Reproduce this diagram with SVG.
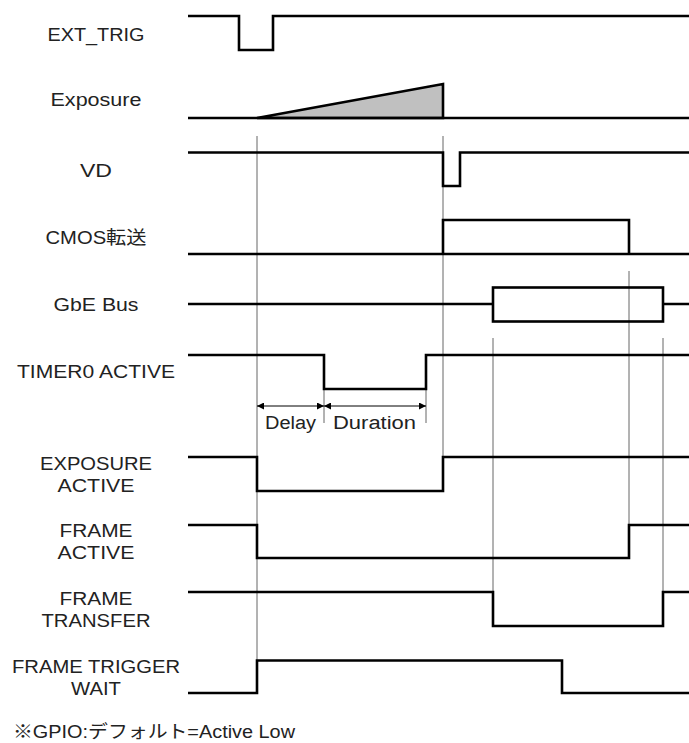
<svg xmlns="http://www.w3.org/2000/svg" width="689" height="743" viewBox="0 0 689 743">
<style>
.sig{fill:none;stroke:#000;stroke-width:2.6;stroke-linejoin:miter;stroke-linecap:butt}
.guide{fill:none;stroke:#666;stroke-width:1}
.lbl{font-family:"Liberation Sans","Noto Sans CJK JP",sans-serif;font-size:18px;fill:#222;text-anchor:middle}
.note{font-family:"Liberation Sans","Noto Sans CJK JP",sans-serif;font-size:18px;fill:#222}
.dim{fill:none;stroke:#000;stroke-width:1}
</style>
<defs>
<marker id="ah" viewBox="0 0 10 10" refX="10" refY="5" markerWidth="7" markerHeight="7" markerUnits="userSpaceOnUse" orient="auto-start-reverse">
<path d="M0,0 L10,5 L0,10 Z" fill="#000"/>
</marker>
</defs>
<rect width="689" height="743" fill="#fff"/>
<g id="connectors">
<line class="guide" x1="257" y1="136" x2="257" y2="660"/>
<line class="guide" x1="443" y1="136" x2="443" y2="457"/>
<line class="guide" x1="629" y1="271" x2="629" y2="525"/>
<line class="guide" x1="493" y1="338" x2="493" y2="592"/>
<line class="guide" x1="663" y1="338" x2="663" y2="592"/>
<line class="guide" x1="324" y1="389" x2="324" y2="423"/>
<line class="guide" x1="426" y1="389" x2="426" y2="423"/>
<line class="dim" x1="257" y1="406" x2="324" y2="406" marker-start="url(#ah)" marker-end="url(#ah)"/>
<line class="dim" x1="324" y1="406" x2="426" y2="406" marker-start="url(#ah)" marker-end="url(#ah)"/>
<text class="note" x="265" y="429" textLength="51" lengthAdjust="spacingAndGlyphs">Delay</text>
<text class="note" x="333" y="429" textLength="83" lengthAdjust="spacingAndGlyphs">Duration</text>
</g>
<g id="ext_trig">
<text class="lbl" x="96" y="41" textLength="97" lengthAdjust="spacingAndGlyphs">EXT_TRIG</text>
<path class="sig" d="M188,16 H239 V50 H273 V16 H689"/>
</g>
<g id="exposure">
<text class="lbl" x="96" y="106" textLength="91" lengthAdjust="spacingAndGlyphs">Exposure</text>
<path d="M257,118 L443,84 V118 Z" fill="#c0c0c0" stroke="#000" stroke-width="2.6" stroke-linejoin="miter"/>
<path class="sig" d="M188,118 H689"/>
</g>
<g id="vd">
<text class="lbl" x="96" y="177" textLength="32" lengthAdjust="spacingAndGlyphs">VD</text>
<path class="sig" d="M188,152.5 H443 V186 H460 V152.5 H689"/>
</g>
<g id="cmos">
<text class="lbl" x="96" y="244" textLength="101" lengthAdjust="spacingAndGlyphs">CMOS転送</text>
<path class="sig" d="M188,254 H689 M443,254 V220 H629 V254"/>
</g>
<g id="gbe">
<text class="lbl" x="96" y="311" textLength="85" lengthAdjust="spacingAndGlyphs">GbE Bus</text>
<path class="sig" d="M188,304 H493 M663,304 H689"/>
<rect class="sig" x="493" y="287.5" width="170" height="34"/>
</g>
<g id="timer0">
<text class="lbl" x="96" y="378" textLength="158" lengthAdjust="spacingAndGlyphs">TIMER0 ACTIVE</text>
<path class="sig" d="M188,355 H324 V389 H426 V355 H689"/>
</g>
<g id="exposure_active">
<text class="lbl" x="96" y="470" textLength="112" lengthAdjust="spacingAndGlyphs">EXPOSURE</text>
<text class="lbl" x="96" y="492" textLength="77" lengthAdjust="spacingAndGlyphs">ACTIVE</text>
<path class="sig" d="M188,457 H257 V491 H443 V457 H689"/>
</g>
<g id="frame_active">
<text class="lbl" x="96" y="537" textLength="73" lengthAdjust="spacingAndGlyphs">FRAME</text>
<text class="lbl" x="96" y="559" textLength="77" lengthAdjust="spacingAndGlyphs">ACTIVE</text>
<path class="sig" d="M188,525 H257 V558 H629 V525 H689"/>
</g>
<g id="frame_transfer">
<text class="lbl" x="96" y="605" textLength="73" lengthAdjust="spacingAndGlyphs">FRAME</text>
<text class="lbl" x="96" y="627" textLength="109" lengthAdjust="spacingAndGlyphs">TRANSFER</text>
<path class="sig" d="M188,592 H493 V626 H663 V592 H689"/>
</g>
<g id="frame_trigger_wait">
<text class="lbl" x="96" y="673" textLength="168" lengthAdjust="spacingAndGlyphs">FRAME TRIGGER</text>
<text class="lbl" x="96" y="695" textLength="50" lengthAdjust="spacingAndGlyphs">WAIT</text>
<path class="sig" d="M188,693 H257 V660.5 H562 V693 H689"/>
</g>
<g id="footnote">
<text class="note" x="13" y="738" font-size="17" textLength="282" lengthAdjust="spacingAndGlyphs">※GPIO:デフォルト=Active Low</text>
</g>
</svg>
